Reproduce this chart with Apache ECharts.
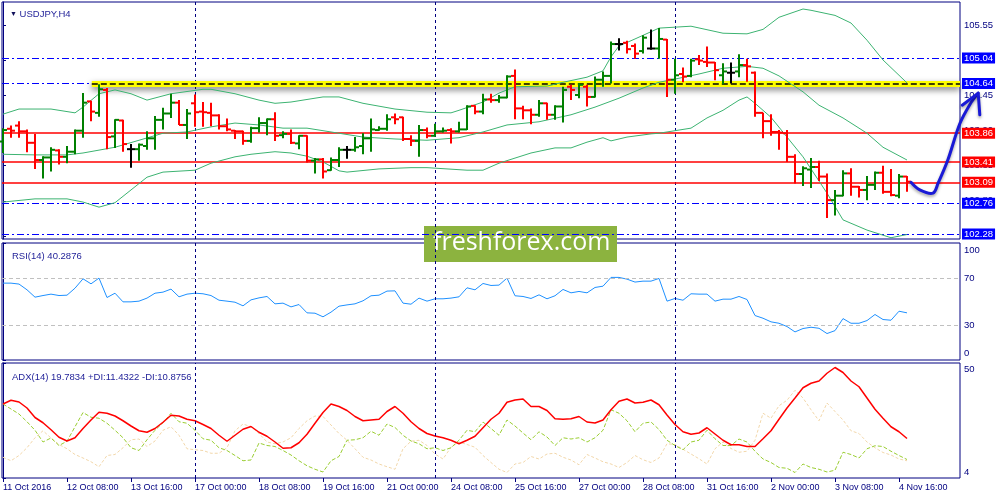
<!DOCTYPE html>
<html lang="en">
<head>
<meta charset="UTF-8">
<title>USDJPY,H4</title>
<style>
  html, body { margin: 0; padding: 0; background: #fff; }
  #chart { width: 1000px; height: 500px; }
</style>
</head>
<body>
<div id="chart"></div>
<script src="https://cdn.jsdelivr.net/npm/echarts@6/dist/echarts.min.js"></script>
<script>
// bar 0 = 11 Oct 2016 00:00, one bar every 4 hours (114 bars)
var opens = [
  103.73,103.93,103.98,103.89,103.71,103.44,103.48,103.59,103.49,103.57,
  103.90,104.36,104.18,104.54,103.81,104.06,103.61,103.61,103.66,103.78,
  104.07,104.17,104.34,103.99,104.33,104.20,104.18,104.14,103.97,103.90,
  103.89,103.74,103.94,104.02,104.08,103.83,103.85,103.70,103.82,103.43,
  103.45,103.28,103.44,103.60,103.60,103.66,103.78,103.91,103.93,104.11,
  104.11,103.77,103.74,103.91,103.82,103.89,103.91,103.89,103.92,104.29,
  104.20,104.39,104.38,104.42,104.76,104.25,104.22,104.15,104.33,104.15,
  104.28,104.59,104.46,104.59,104.43,104.70,104.76,105.26,105.28,105.23,
  105.15,105.19,105.19,105.33,104.70,104.79,104.76,105.02,104.98,104.97,
  104.77,104.81,104.83,104.93,104.81,104.18,104.05,103.88,103.86,103.49,
  103.22,103.29,103.33,103.18,102.81,102.88,103.23,103.02,102.97,103.05,
  103.24,102.94,102.88,103.18
];
var highs = [
  103.94,103.98,104.05,103.92,103.85,103.50,103.64,103.61,103.66,103.92,
  104.49,104.37,104.63,104.57,104.08,104.07,103.69,103.70,103.89,104.13,
  104.26,104.48,104.38,104.24,104.47,104.35,104.34,104.16,104.09,103.91,
  103.90,103.96,104.11,104.09,104.19,103.89,103.92,103.83,103.83,103.47,
  103.47,103.48,103.64,103.66,103.80,103.86,104.09,103.97,104.16,104.17,
  104.12,103.83,103.99,103.95,104.01,103.95,103.94,104.04,104.30,104.30,
  104.48,104.48,104.46,104.77,104.86,104.29,104.25,104.38,104.34,104.30,
  104.59,104.62,104.65,104.62,104.75,104.83,105.30,105.35,105.31,105.27,
  105.40,105.49,105.51,105.34,105.03,104.89,105.03,105.09,105.22,104.98,
  104.96,104.97,105.10,105.03,104.83,104.18,104.16,103.91,103.91,103.53,
  103.34,103.47,103.43,103.23,102.97,103.28,103.31,103.03,103.19,103.26,
  103.35,103.30,103.22,103.19
];
var lows = [
  103.55,103.79,103.79,103.56,103.30,103.15,103.26,103.37,103.39,103.53,
  103.79,104.05,104.12,103.61,103.63,103.57,103.32,103.43,103.60,103.60,
  103.92,104.10,103.99,103.77,103.96,103.96,103.97,103.92,103.89,103.77,
  103.68,103.71,103.87,103.83,103.74,103.78,103.69,103.61,103.40,103.23,
  103.15,103.27,103.33,103.46,103.57,103.53,103.57,103.90,103.90,104.00,
  103.74,103.66,103.49,103.78,103.81,103.87,103.70,103.87,103.91,104.16,
  104.16,104.34,104.34,104.41,104.08,104.08,104.00,104.12,104.07,104.07,
  104.03,104.38,104.41,104.28,104.42,104.59,104.64,105.16,105.11,105.03,
  105.11,105.17,105.03,104.43,104.48,104.66,104.74,104.93,104.90,104.69,
  104.63,104.64,104.74,104.67,104.12,103.78,103.82,103.60,103.41,103.07,
  103.03,103.00,103.11,102.53,102.57,102.87,102.88,102.85,102.81,102.97,
  102.91,102.87,102.84,102.94
];
var closes = [
  103.91,103.90,103.89,103.71,103.44,103.48,103.60,103.49,103.57,103.90,
  104.34,104.20,104.55,103.80,104.07,103.69,103.61,103.68,103.78,104.07,
  104.17,104.34,103.99,104.17,104.19,104.19,104.14,103.97,103.92,103.89,
  103.74,103.94,104.02,104.08,103.82,103.85,103.71,103.82,103.43,103.45,
  103.26,103.44,103.60,103.60,103.64,103.78,103.92,103.93,104.08,104.08,
  103.77,103.74,103.91,103.82,103.89,103.90,103.89,103.92,104.28,104.20,
  104.39,104.38,104.42,104.75,104.25,104.22,104.15,104.33,104.15,104.28,
  104.54,104.54,104.62,104.43,104.70,104.76,105.26,105.26,105.18,105.11,
  105.36,105.19,105.34,104.70,104.77,104.75,105.00,105.00,104.97,104.85,
  104.83,104.81,104.93,104.91,104.18,104.05,103.88,103.87,103.49,103.22,
  103.31,103.33,103.18,102.81,102.88,103.23,103.02,102.97,103.05,103.24,
  102.94,102.89,103.18,103.10
];

// Bollinger bands, read at [bar, price]
var bbUpper = [
  [0,104.16],[2,104.24],[6,104.24],[9,104.18],[10,104.27],[12,104.48],[14,104.54],
  [16,104.48],[18,104.38],[21,104.48],[25,104.55],[26,104.55],[29,104.48],[32,104.38],
  [34,104.33],[36,104.35],[40,104.43],[42,104.43],[45,104.33],[49,104.24],[53,104.19],
  [56,104.18],[57,104.22],[60,104.35],[62,104.49],[64,104.59],[68,104.60],[70,104.66],
  [73,104.74],[75,104.84],[76,105.06],[77,105.23],[79,105.34],[82,105.51],[86,105.54],
  [90,105.43],[93,105.42],[95,105.49],[97,105.68],[100,105.81],[101,105.79],[104,105.71],
  [106,105.59],[108,105.32],[110,105.01],[113,104.65]
];
var bbMiddle = [
  [0,103.53],[4,103.52],[8,103.52],[10,103.55],[14,103.64],[17,103.75],[20,103.86],
  [23,103.88],[26,103.96],[29,104.02],[32,103.99],[35,103.94],[38,103.94],[41,103.88],
  [45,103.80],[49,103.77],[53,103.75],[57,103.79],[60,103.88],[63,103.99],[67,104.04],
  [71,104.15],[74,104.27],[77,104.41],[80,104.57],[82,104.66],[84,104.71],[87,104.79],
  [90,104.88],[93,104.91],[95,104.88],[97,104.76],[100,104.51],[102,104.30],[105,104.10],
  [108,103.86],[110,103.64],[113,103.44]
];
var bbLower = [
  [0,102.78],[4,102.83],[8,102.83],[10,102.78],[12,102.70],[14,102.77],[16,102.97],
  [18,103.17],[20,103.25],[24,103.28],[26,103.39],[29,103.49],[31,103.53],[34,103.57],
  [36,103.55],[38,103.50],[40,103.41],[42,103.27],[43,103.25],[47,103.30],[51,103.32],
  [53,103.32],[58,103.28],[60,103.28],[62,103.39],[66,103.55],[69,103.63],[71,103.63],
  [73,103.72],[75,103.79],[76,103.74],[78,103.80],[81,103.85],[82,103.86],[86,103.94],
  [88,104.10],[90,104.22],[92,104.38],[93,104.43],[94,104.33],[96,104.11],[98,103.80],
  [100,103.49],[103,102.92],[105,102.50],[108,102.34],[111,102.22],[113,102.27]
];

// hand-drawn forecast arrow, [bar, price]
var arrowCurve = [[113.5,103.09],[114.6,102.97],[116.25,102.92],[116.9,103.08],[118.1,103.44],[119.6,104.01],[120.9,104.32],[121.9,104.49]];
var arrowHead = [[119.9,104.30],[121.9,104.49],[122.1,104.15]];

var rsi = [
  65.7,65.7,64.9,60.0,53.7,55.1,56.3,55.1,55.4,61.4,
  69.4,65.1,70.0,53.4,57.1,49.7,49.7,50.3,52.9,57.1,
  58.0,60.6,54.0,56.3,57.1,56.6,55.1,51.1,50.3,49.4,
  46.3,51.4,53.1,54.3,48.0,48.6,45.4,47.4,40.3,40.0,
  36.9,40.9,46.0,47.1,48.0,50.6,54.9,55.4,58.9,59.1,
  48.6,47.7,52.9,50.3,52.3,52.3,52.9,54.0,61.7,60.0,
  65.4,63.7,64.0,70.0,54.9,54.3,52.6,55.7,52.3,54.9,
  60.3,57.4,58.6,57.4,62.0,63.1,70.6,70.6,69.1,66.6,
  67.4,67.4,69.7,50.3,52.6,51.1,56.6,56.3,56.3,50.3,
  52.0,52.0,54.3,51.7,38.0,35.7,32.6,31.4,28.6,24.0,
  26.9,28.0,27.1,22.6,25.1,35.4,31.4,31.4,33.7,38.9,
  34.6,34.0,41.7,40.3
];
var adx = [
  33.6,35.1,34.4,32.0,28.2,26.1,23.3,20.3,18.8,20.1,
  23.8,27.2,30.3,29.9,28.8,26.9,24.8,22.9,22.3,23.8,
  26.3,29.1,28.8,27.5,26.9,25.4,23.8,21.1,18.7,21.1,
  23.5,24.6,22.3,20.7,18.4,15.9,16.1,18.1,21.5,25.9,
  30.2,33.6,32.6,31.0,28.6,26.9,27.2,27.5,30.6,32.6,
  29.9,26.5,23.8,21.8,20.8,20.1,19.1,17.7,19.1,20.7,
  24.1,27.5,29.9,34.3,35.2,35.6,32.6,32.6,31.0,27.7,
  27.5,27.7,28.6,26.4,26.0,27.2,31.3,34.7,35.6,34.0,
  34.3,35.2,33.3,29.2,25.4,22.5,21.5,22.0,24.1,21.6,
  19.1,17.3,17.3,16.6,16.6,19.7,22.9,27.5,32.0,36.0,
  40.1,41.9,42.8,45.9,48.2,46.2,42.8,40.5,36.0,31.5,
  27.9,24.5,22.5,19.8
];
var plusDI = [
  33.6,31.6,29.6,26.5,23.1,18.4,20.0,17.0,18.7,24.5,
  30.2,28.3,27.9,25.9,23.1,20.1,16.1,15.0,19.3,23.1,
  26.1,29.9,26.5,25.9,23.1,19.7,19.1,16.1,15.0,13.0,
  10.9,11.2,18.0,17.0,16.6,15.0,13.2,10.9,8.9,7.5,
  6.4,10.9,12.6,19.1,19.3,20.1,22.7,21.1,25.6,24.2,
  21.1,18.8,17.7,15.7,16.1,15.0,16.1,19.1,23.1,22.5,
  26.4,23.8,21.1,27.2,24.8,22.0,19.3,22.5,20.4,17.0,
  20.1,19.6,20.1,18.4,20.1,23.1,31.3,29.9,26.9,22.5,
  25.9,26.4,23.4,19.1,17.0,15.3,18.4,19.1,23.1,19.7,
  17.0,17.0,19.6,18.4,14.7,11.6,10.2,8.2,7.9,6.2,
  9.6,8.2,7.5,6.4,7.1,14.3,13.4,12.0,15.7,16.9,
  16.6,14.7,13.0,11.4
];
var minusDI = [
  12.3,10.9,13.0,16.1,20.1,22.9,20.0,17.4,15.7,13.4,
  12.0,10.5,8.5,13.0,13.4,16.1,19.3,19.6,16.6,18.8,
  23.1,24.5,21.1,15.7,15.3,15.0,13.9,13.9,16.1,22.9,
  25.6,24.5,21.8,18.4,17.7,18.4,20.1,23.8,26.9,28.8,
  28.6,25.2,21.8,19.1,15.7,12.3,11.2,9.6,8.5,7.5,
  15.7,18.7,19.1,17.0,13.6,11.6,16.3,18.4,17.4,16.3,
  13.0,10.2,7.5,6.2,9.6,10.2,12.6,11.6,13.6,13.9,
  12.3,11.2,9.3,13.4,12.0,10.5,9.6,8.2,10.2,13.0,
  11.3,10.2,12.0,17.7,17.4,15.5,13.6,11.7,9.6,15.7,
  18.4,15.8,14.3,14.7,19.1,29.9,27.9,32.9,35.1,39.1,
  36.0,31.3,26.9,34.0,30.6,27.2,22.9,21.8,18.4,16.1,
  14.2,13.2,11.6,10.9
];

var xTickBars = [0,8,16,24,32,40,48,56,64,72,80,88,96,104,112];
var xLabels = ['11 Oct 2016','12 Oct 08:00','13 Oct 16:00','17 Oct 00:00','18 Oct 08:00','19 Oct 16:00','21 Oct 00:00',
  '24 Oct 08:00','25 Oct 16:00','27 Oct 00:00','28 Oct 08:00','31 Oct 16:00','2 Nov 00:00','3 Nov 08:00','4 Nov 16:00'];
var weekStarts = [24, 54, 84];
var priceTicks = [102.25,102.80,103.35,103.90,104.45,105.00,105.55];
var blueLevels = [105.04, 104.64, 102.76, 102.28];
var redLevels = [103.86, 103.41, 103.09];
var highlightLevel = 104.64, highlightFrom = 11.1;

var NAVY = '#000080';
var FONT = '"Liberation Sans", Arial, sans-serif';
var X_MIN = -0.125, X_MAX = 119.625;

function xAxisFor(g, labels) {
  return {
    type: 'value', gridIndex: g, min: X_MIN, max: X_MAX,
    axisLine: {show: false}, splitLine: {show: false},
    axisTick: labels ? {show: true, customValues: xTickBars, length: 4, lineStyle: {color: NAVY}} : {show: false},
    axisLabel: labels ? {
      show: true, customValues: xTickBars, align: 'left', margin: 5,
      color: NAVY, fontSize: 9, fontFamily: FONT,
      formatter: function (v) { return xLabels[xTickBars.indexOf(Math.round(v))]; }
    } : {show: false}
  };
}

function levelLine(v, color, dash, width) {
  return {
    yAxis: v,
    lineStyle: {color: color, type: dash, width: width},
    label: {
      show: true, position: 'end', distance: 2, formatter: v.toFixed(2),
      backgroundColor: color, color: '#fff', padding: [1, 2, 0, 2],
      fontSize: 9.5, fontFamily: FONT
    }
  };
}

function renderBar(params, api) {
  var i = api.value(0), o = api.value(1), c = api.value(4);
  var pO = api.coord([i, o]), pH = api.coord([i, api.value(2)]);
  var pL = api.coord([i, api.value(3)]), pC = api.coord([i, c]);
  var col = c > o ? '#008000' : (c < o ? '#ff0000' : '#000000');
  var st = {stroke: col, lineWidth: 2};
  var x = Math.round(pH[0]);
  return {type: 'group', children: [
    {type: 'line', shape: {x1: x, y1: pH[1], x2: x, y2: pL[1]}, style: st},
    {type: 'line', shape: {x1: x - 4, y1: pO[1], x2: x, y2: pO[1]}, style: st},
    {type: 'line', shape: {x1: x, y1: pC[1], x2: x + 4, y2: pC[1]}, style: st}
  ]};
}

// forecast arrow drawn as one polyline through the library's coordinates
function renderArrow(params, api) {
  var arrowStyle = {stroke: '#1a1ad6', lineWidth: 3, fill: null, lineJoin: 'round', lineCap: 'round',
    shadowColor: 'rgba(0,0,0,0.35)', shadowBlur: 3, shadowOffsetY: 2};
  return {type: 'group', children: [
    {type: 'polyline', shape: {points: arrowCurve.map(function (p) { return api.coord(p); }), smooth: 0.35}, style: arrowStyle},
    {type: 'polyline', shape: {points: arrowHead.map(function (p) { return api.coord(p); })}, style: arrowStyle}
  ]};
}

var bars = opens.map(function (o, i) { return [i, o, highs[i], lows[i], closes[i]]; });
function indexed(arr) { return arr.map(function (v, i) { return [i, v]; }); }

var mainMarks = [];
weekStarts.forEach(function (b) {
  mainMarks.push({xAxis: b, lineStyle: {color: NAVY, type: [3, 3], width: 1}, label: {show: false}});
});
blueLevels.forEach(function (v) { mainMarks.push(levelLine(v, '#0000ff', [7, 3, 2, 3], 1.2)); });
redLevels.forEach(function (v) { mainMarks.push(levelLine(v, '#ff0000', 'solid', 1.5)); });
mainMarks.push([
  {coord: [highlightFrom, highlightLevel], label: {show: false},
   lineStyle: {color: '#ffff00', width: 6, type: 'solid', shadowColor: 'rgba(0,0,0,0.5)', shadowBlur: 6, shadowOffsetY: 3}},
  {coord: [X_MAX, highlightLevel]}
]);
mainMarks.push([
  {coord: [highlightFrom, highlightLevel], label: {show: false}, lineStyle: {color: '#000000', width: 1.5, type: [6, 3]}},
  {coord: [X_MAX, highlightLevel]}
]);

var bbStyle = {color: '#3cb371', width: 1};
var weekMark = function () {
  return weekStarts.map(function (b) { return {xAxis: b, lineStyle: {color: NAVY, type: [3, 3], width: 1}}; });
};

var option = {
  animation: false,
  textStyle: {fontFamily: FONT},
  title: [
    {text: '{tri|▼} USDJPY,H4', left: 5, top: 4,
     textStyle: {fontSize: 9.5, fontWeight: 'normal', color: '#24249a', fontFamily: FONT,
       rich: {tri: {fontSize: 7, color: '#10105a'}}}},
    {text: 'RSI(14) 40.2876', left: 7, top: 246,
     textStyle: {fontSize: 9.5, fontWeight: 'normal', color: '#24249a', fontFamily: FONT}},
    {text: 'ADX(14) 19.7834 +DI:11.4322 -DI:10.8756', left: 7, top: 367,
     textStyle: {fontSize: 9.5, fontWeight: 'normal', color: '#24249a', fontFamily: FONT}}
  ],
  grid: [
    {left: 2, right: 40, top: 2, height: 237, show: true, borderColor: NAVY, borderWidth: 1, backgroundColor: 'transparent'},
    {left: 2, right: 40, top: 243, height: 117, show: true, borderColor: NAVY, borderWidth: 1, backgroundColor: 'transparent'},
    {left: 2, right: 40, top: 363, height: 115, show: true, borderColor: NAVY, borderWidth: 1, backgroundColor: 'transparent'}
  ],
  xAxis: [xAxisFor(0, false), xAxisFor(1, false), xAxisFor(2, true)],
  yAxis: [
    {type: 'value', gridIndex: 0, position: 'right', min: 102.2, max: 105.92,
     axisLine: {show: true, lineStyle: {color: NAVY}}, splitLine: {show: false},
     axisTick: {show: true, customValues: priceTicks, length: 3, lineStyle: {color: NAVY}},
     axisLabel: {customValues: priceTicks, margin: 4, color: NAVY, fontSize: 9.5, fontFamily: FONT,
       formatter: function (v) { return v.toFixed(2); }}},
    {type: 'value', gridIndex: 1, position: 'right', min: 0, max: 100,
     axisLine: {show: true, lineStyle: {color: NAVY}}, splitLine: {show: false},
     axisTick: {show: true, customValues: [0, 30, 70, 100], length: 3, lineStyle: {color: NAVY}},
     axisLabel: {customValues: [0, 30, 70, 100], margin: 4, color: NAVY, fontSize: 9.5, fontFamily: FONT,
       formatter: function (v) { return v === 100 ? '{t|100}' : (v === 0 ? '{b|0}' : String(v)); },
       rich: {t: {padding: [14, 0, 0, 0], color: NAVY, fontSize: 9.5, fontFamily: FONT},
              b: {padding: [0, 0, 14, 0], color: NAVY, fontSize: 9.5, fontFamily: FONT}}}},
    {type: 'value', gridIndex: 2, position: 'right', min: 4, max: 50,
     axisLine: {show: true, lineStyle: {color: NAVY}}, splitLine: {show: false},
     axisTick: {show: true, customValues: [4, 50], length: 3, lineStyle: {color: NAVY}},
     axisLabel: {customValues: [4, 50], margin: 4, color: NAVY, fontSize: 9.5, fontFamily: FONT,
       formatter: function (v) { return v === 50 ? '{t|50}' : '{b|4}'; },
       rich: {t: {padding: [12, 0, 0, 0], color: NAVY, fontSize: 9.5, fontFamily: FONT},
              b: {padding: [0, 0, 12, 0], color: NAVY, fontSize: 9.5, fontFamily: FONT}}}}
  ],
  series: [
    {name: 'BB middle', type: 'line', xAxisIndex: 0, yAxisIndex: 0, data: bbMiddle, showSymbol: false,
     lineStyle: bbStyle, z: 2, silent: true,
     markLine: {symbol: 'none', silent: true, animation: false, z: 1, data: mainMarks}},
    {name: 'BB upper', type: 'line', xAxisIndex: 0, yAxisIndex: 0, data: bbUpper, showSymbol: false, lineStyle: bbStyle, z: 2, silent: true},
    {name: 'BB lower', type: 'line', xAxisIndex: 0, yAxisIndex: 0, data: bbLower, showSymbol: false, lineStyle: bbStyle, z: 2, silent: true},
    {name: 'USDJPY', type: 'custom', xAxisIndex: 0, yAxisIndex: 0, data: bars, renderItem: renderBar,
     encode: {x: 0, y: [1, 2, 3, 4]}, z: 3, silent: true},
    {name: 'arrow', type: 'custom', xAxisIndex: 0, yAxisIndex: 0, data: [arrowCurve[0]], renderItem: renderArrow,
     encode: {x: 0, y: 1}, clip: false, z: 6, silent: true},
    {name: 'RSI', type: 'line', xAxisIndex: 1, yAxisIndex: 1, data: indexed(rsi), showSymbol: false,
     lineStyle: {color: '#1e90ff', width: 1}, silent: true,
     markLine: {symbol: 'none', silent: true, animation: false, label: {show: false},
       data: [{yAxis: 70, lineStyle: {color: '#c0c0c0', type: [4, 3], width: 1}},
              {yAxis: 30, lineStyle: {color: '#c0c0c0', type: [4, 3], width: 1}}].concat(weekMark())}},
    {name: '-DI', type: 'line', xAxisIndex: 2, yAxisIndex: 2, data: indexed(minusDI), showSymbol: false,
     lineStyle: {color: '#f2d7aa', width: 1, type: [3, 2]}, silent: true,
     markLine: {symbol: 'none', silent: true, animation: false, label: {show: false}, data: weekMark()}},
    {name: '+DI', type: 'line', xAxisIndex: 2, yAxisIndex: 2, data: indexed(plusDI), showSymbol: false,
     lineStyle: {color: '#9acd32', width: 1, type: [4, 2]}, silent: true},
    {name: 'ADX', type: 'line', xAxisIndex: 2, yAxisIndex: 2, data: indexed(adx), showSymbol: false,
     lineStyle: {color: '#ff0000', width: 1.5}, silent: true}
  ],
  graphic: [
    {type: 'group', left: 424, top: 226, z: 100, silent: true, children: [
      {type: 'rect', shape: {x: 0, y: 0, width: 193, height: 36}, style: {fill: '#8cb33f'}},
      {type: 'text', x: 9, y: 17, style: {text: 'freshforex.com', fill: '#ffffff',
        font: '25px "Open Sans", "Noto Sans", sans-serif', verticalAlign: 'middle'}}
    ]}
  ]
};

var chart = echarts.init(document.getElementById('chart'));
chart.setOption(option);
</script>
</body>
</html>
